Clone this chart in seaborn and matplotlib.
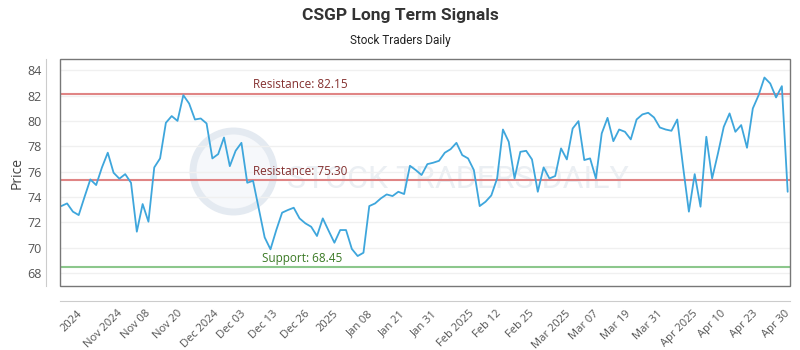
import numpy as np
import pandas as pd
import seaborn as sns
import matplotlib.pyplot as plt

# closing prices (one per trading session)
price = [73.28, 73.49, 72.84, 72.57, 74.0, 75.38, 74.94, 76.33, 77.49, 75.91,
         75.44, 75.8, 75.12, 71.26, 73.44, 72.05, 76.33, 77.04, 79.85, 80.38,
         80.0, 82.03, 81.37, 80.11, 80.19, 79.8, 77.04, 77.38, 78.69, 76.43,
         77.64, 78.27, 75.12, 75.28, 73.05, 70.81, 69.87, 71.39, 72.76, 72.97,
         73.15, 72.31, 71.92, 71.65, 70.92, 72.31, 71.34, 70.39, 71.39, 71.39,
         69.9, 69.34, 69.6, 73.28, 73.49, 73.89, 74.2, 74.07, 74.41, 74.23,
         76.46, 76.12, 75.73, 76.59, 76.7, 76.85, 77.49, 77.77, 78.27, 77.3,
         77.04, 76.12, 73.28, 73.62, 74.12, 75.46, 79.32, 78.35, 75.46, 77.56,
         77.64, 76.96, 74.41, 76.33, 75.46, 75.65, 77.83, 76.96, 79.4, 79.98,
         76.91, 77.04, 75.46, 79.01, 80.24, 78.4, 79.32, 79.14, 78.54, 80.11,
         80.51, 80.64, 80.27, 79.48, 79.32, 79.22, 80.11, 76.38, 72.84, 75.8,
         73.23, 78.75, 75.46, 77.43, 79.53, 80.59, 79.14, 79.67, 77.88, 80.98,
         82.03, 83.42, 82.95, 81.85, 82.74, 74.41]

tick_labels = ['2024', 'Nov 2024', 'Nov 08', 'Nov 20', 'Dec 2024', 'Dec 03',
               'Dec 13', 'Dec 26', '2025', 'Jan 08', 'Jan 21', 'Jan 31',
               'Feb 2025', 'Feb 12', 'Feb 25', 'Mar 2025', 'Mar 07', 'Mar 19',
               'Mar 31', 'Apr 2025', 'Apr 10', 'Apr 23', 'Apr 30']

levels = [82.15, 75.30, 68.45]
level_names = ['Resistance', 'Resistance', 'Support']

df = pd.DataFrame({'idx': np.arange(len(price)), 'price': price})

sns.set_style('white')
plt.rcParams['font.family'] = ['Open Sans', 'DejaVu Sans']

fig = plt.figure(figsize=(8, 3.5), dpi=100)
ax = fig.add_axes([0.075, 0.183, 0.9125, 0.648])

# watermark
ax.scatter([0.237], [0.505], s=3400, transform=ax.transAxes, facecolor='#f6f8fb',
           edgecolor='#e4eaf1', linewidths=5, zorder=0)
ax.text(0.545, 0.47, 'STOCK TRADERS DAILY', transform=ax.transAxes,
        fontsize=23, color='#ebeff3', ha='center', va='center', zorder=0,
        family=['Roboto', 'DejaVu Sans'])

sns.lineplot(data=df, x='idx', y='price', ax=ax, color='#3ea6dc', linewidth=1.3, zorder=3)

for lvl, name in zip(levels, level_names):
    if name == 'Support':
        lc, tc, tx = '#8cc78c', '#3b7a25', 34.5
    else:
        lc, tc, tx = '#e08585', '#84302f', 33
    ax.axhline(lvl, color=lc, linewidth=1.5, zorder=2)
    ax.annotate(f'{name}: {lvl:.2f}', xy=(tx, lvl), xytext=(0, 2),
                textcoords='offset points', color=tc, fontsize=8.5,
                ha='left', va='bottom', zorder=4)

ax.set_xlim(-0.22, len(price) - 1 + 0.4)
ax.set_ylim(66.98, 84.87)
ax.set_yticks(np.arange(68, 85, 2))
ax.yaxis.grid(True, color='#f0f0f0', linewidth=1)
ax.set_axisbelow(True)

ax.set_xticks(np.linspace(1.8, len(price) - 3.0, len(tick_labels)))
ax.set_xticklabels(tick_labels)
ax.tick_params(axis='both', length=0, labelcolor='#555555')
ax.tick_params(axis='x', pad=5, labelrotation=45, labelsize=8)
ax.tick_params(axis='y', pad=3, labelsize=9)
plt.setp(ax.get_xticklabels(), ha='right', va='center', rotation_mode='anchor')

ax.set_xlabel('')
ax.set_ylabel('Price', fontsize=10, color='#444444', labelpad=2)

# box around plot plus offset light axis lines
for s in ['top', 'right']:
    ax.spines[s].set_visible(False)
ax.spines['left'].set_position(('outward', 10))
ax.spines['bottom'].set_position(('outward', 11))
ax.spines['left'].set_color('#cccccc')
ax.spines['bottom'].set_color('#cccccc')
ax.add_patch(plt.Rectangle((0, 0), 1, 1, transform=ax.transAxes, fill=False,
                           edgecolor='#777777', linewidth=1, clip_on=False, zorder=5))

fig.text(0.5, 0.957, 'CSGP Long Term Signals', ha='center', va='center',
         fontsize=12.5, fontweight='bold', color='#333333',
         family=['Roboto', 'DejaVu Sans'])
fig.text(0.5, 0.885, 'Stock Traders Daily', ha='center', va='center',
         fontsize=8.5, color='#222222',
         family=['Roboto', 'DejaVu Sans'])

fig.savefig('out.png', dpi=100)
